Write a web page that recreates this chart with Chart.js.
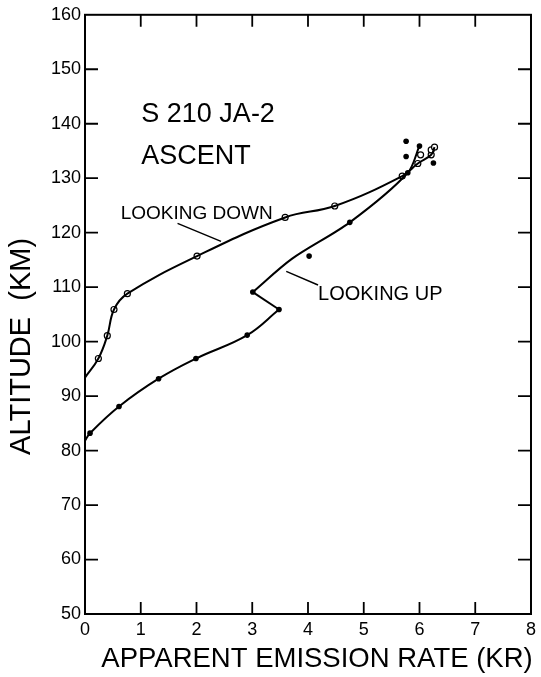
<!DOCTYPE html>
<html><head><meta charset="utf-8">
<script src="https://cdn.jsdelivr.net/npm/chart.js@4"></script>
<style>html,body{margin:0;padding:0;background:#fff}#wrap{width:541px;height:677px;position:relative}</style>
</head><body><div id="wrap"><canvas id="c" width="541" height="677"></canvas></div>
<script>
// ---- data ----
const xTickValues = [0,1,2,3,4,5,6,7,8];
const yTickValues = [50,60,70,80,90,100,110,120,130,140,150,160];

// Looking down: smooth curve vertices
const downLineX = [0, 0.24, 0.40, 0.52, 0.76, 2.01, 3.59, 4.48, 5.69, 5.97, 6.21, 6.27];
const downLineY = [93.4, 96.9, 101.1, 105.9, 108.8, 115.7, 122.8, 124.9, 130.4, 132.7, 134.3, 135.7];
// Looking down: open-circle measurements
const downPtX = [0.24, 0.40, 0.52, 0.76, 2.01, 3.59, 4.48, 5.69, 5.97, 6.02, 6.21, 6.21, 6.27];
const downPtY = [96.9, 101.1, 105.9, 108.8, 115.7, 122.8, 124.9, 130.4, 132.7, 134.3, 134.3, 135.2, 135.7];

// Looking up: curve vertices
const upLineX = [0, 0.09, 0.61, 1.32, 1.99, 2.91, 3.48, 3.01, 3.71, 4.75, 5.79, 6.0];
const upLineY = [81.8, 83.2, 88.1, 93.2, 96.9, 101.2, 105.9, 109.1, 115.2, 121.9, 131.0, 136.0];
// Looking up: filled-dot measurements
const upPtX = [0.09, 0.61, 1.32, 1.99, 2.91, 3.48, 3.01, 4.02, 4.75, 5.79, 5.76, 5.76, 6.0, 6.25];
const upPtY = [83.2, 88.1, 93.2, 96.9, 101.2, 105.9, 109.1, 115.7, 121.9, 131.0, 136.8, 134.0, 135.9, 132.8];

const xTitle = 'APPARENT EMISSION RATE (KR)';
const yTitle = 'ALTITUDE  (KM)';
const label1 = 'S 210 JA-2';
const label2 = 'ASCENT';
const labelDown = 'LOOKING DOWN';
const labelUp = 'LOOKING UP';

// ---- build ----
const pts = (xs, ys, a, b) => xs.slice(a, b).map((x, i) => ({x, y: ys.slice(a, b)[i]}));
const FONT = '"Liberation Sans", Arial, sans-serif';
const lineDs = (data, tension) => ({
  data, showLine: true, borderColor: '#000', borderWidth: 2, tension,
  pointRadius: 0, pointHoverRadius: 0, fill: false
});

const datasets = [
  lineDs(pts(downLineX, downLineY, 0), 0.4),
  lineDs(pts(upLineX, upLineY, 0, 7), 0.4),
  lineDs(pts(upLineX, upLineY, 6, 8), 0),
  lineDs(pts(upLineX, upLineY, 7), 0.3),
  { data: pts(upPtX, upPtY, 0), showLine: false, pointRadius: 2.8, pointBackgroundColor: '#000', pointBorderColor: '#000', pointBorderWidth: 0 },
  { data: pts(downPtX, downPtY, 0), showLine: false, pointRadius: 3, pointBackgroundColor: '#fff', pointBorderColor: '#000', pointBorderWidth: 1.2 },
  { data: pts(downPtX, downPtY, 0), showLine: false, pointRadius: 0.8, pointBackgroundColor: '#000', pointBorderColor: '#000', pointBorderWidth: 0 }
];

const frame = {
  id: 'frame',
  afterDraw(chart) {
    const {ctx, chartArea: a, scales: {x, y}} = chart;
    ctx.save();
    ctx.strokeStyle = '#000';
    ctx.lineWidth = 2;
    ctx.strokeRect(a.left, a.top, a.right - a.left, a.bottom - a.top);
    ctx.lineWidth = 1.8;
    ctx.beginPath();
    x.ticks.forEach(t => {
      if (t.value <= 0 || t.value >= 8) return;
      const px = x.getPixelForValue(t.value);
      ctx.moveTo(px, a.bottom); ctx.lineTo(px, a.bottom - 12);
      ctx.moveTo(px, a.top); ctx.lineTo(px, a.top + 12);
    });
    y.ticks.forEach(t => {
      if (t.value <= 50 || t.value >= 160) return;
      const py = y.getPixelForValue(t.value);
      ctx.moveTo(a.left, py); ctx.lineTo(a.left + 13, py);
      ctx.moveTo(a.right, py); ctx.lineTo(a.right - 13, py);
    });
    ctx.stroke();

    // annotations
    ctx.fillStyle = '#000';
    ctx.textBaseline = 'middle';
    ctx.textAlign = 'left';
    ctx.font = '27px ' + FONT;
    ctx.fillText(label1, x.getPixelForValue(1.01), y.getPixelForValue(141.6));
    ctx.fillText(label2, x.getPixelForValue(1.01), y.getPixelForValue(133.9));
    ctx.font = '19px ' + FONT;
    ctx.fillText(labelDown, x.getPixelForValue(0.64), y.getPixelForValue(123.5));
    ctx.font = '20px ' + FONT;
    ctx.fillText(labelUp, x.getPixelForValue(4.18), y.getPixelForValue(108.7));
    ctx.lineWidth = 1.5;
    ctx.beginPath();
    ctx.moveTo(x.getPixelForValue(1.66), y.getPixelForValue(121.7));
    ctx.lineTo(x.getPixelForValue(2.44), y.getPixelForValue(118.4));
    ctx.moveTo(x.getPixelForValue(3.61), y.getPixelForValue(112.9));
    ctx.lineTo(x.getPixelForValue(4.18), y.getPixelForValue(110.4));
    ctx.stroke();

    // axis titles
    ctx.textAlign = 'center';
    ctx.font = '27.5px ' + FONT;
    ctx.fillText(xTitle, (a.left + a.right) / 2 + 9, 659);
    ctx.save();
    ctx.translate(22, (a.top + a.bottom) / 2 + 32);
    ctx.rotate(-Math.PI / 2);
    ctx.font = '29px ' + FONT;
    ctx.fillText(yTitle, 0, 0);
    ctx.restore();
    ctx.restore();
  }
};

new Chart(document.getElementById('c'), {
  type: 'scatter',
  data: { datasets },
  options: {
    responsive: false, animation: false, devicePixelRatio: 1,
    layout: { padding: { top: 11, right: 7, left: 0, bottom: 0 } },
    plugins: { legend: { display: false }, tooltip: { enabled: false } },
    scales: {
      x: {
        type: 'linear', min: 0, max: 8,
        afterBuildTicks: s => { s.ticks = xTickValues.map(v => ({value: v})); },
        ticks: { color: '#000', font: { family: FONT, size: 18 }, padding: 5, maxRotation: 0, autoSkip: false },
        grid: { display: false, drawTicks: false }, border: { display: false },
        afterFit: s => { s.height = 63; }
      },
      y: {
        type: 'linear', min: 50, max: 160,
        afterBuildTicks: s => { s.ticks = yTickValues.map(v => ({value: v})); },
        ticks: { color: '#000', font: { family: FONT, size: 18 }, padding: 4, autoSkip: false },
        grid: { display: false, drawTicks: false }, border: { display: false },
        afterFit: s => { s.width = 85; }
      }
    }
  },
  plugins: [frame]
});
</script></body></html>
